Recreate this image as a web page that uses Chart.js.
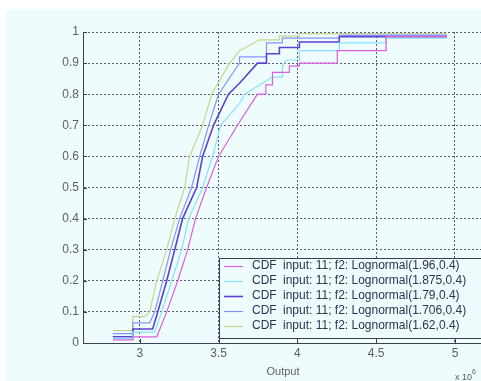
<!DOCTYPE html>
<html>
<head>
<meta charset="utf-8">
<script src="https://cdn.jsdelivr.net/npm/chart.js@4.4.1/dist/chart.umd.min.js"></script>
<style>
  html, body { margin: 0; padding: 0; background: #ffffff; }
  #wrap { width: 481px; height: 381px; }
</style>
</head>
<body>
<div id="wrap"><canvas id="cdfChart" width="481" height="381"></canvas></div>
<script>
// etiquetas y valores (x en millones)
const seriesLabels = [
  'CDF input: 11; f2: Lognormal(1.96,0.4)',
  'CDF input: 11; f2: Lognormal(1.875,0.4)',
  'CDF input: 11; f2: Lognormal(1.79,0.4)',
  'CDF input: 11; f2: Lognormal(1.706,0.4)',
  'CDF input: 11; f2: Lognormal(1.62,0.4)'
];
const seriesColors = ['#dc5ede', '#86e2fb', '#5e40d2', '#8494fb', '#c7d58e'];

const magentaX = [2.829, 2.956, 2.956, 3.108, 3.171, 3.241, 3.304, 3.354, 3.424, 3.500, 3.620, 3.747, 3.800, 3.800, 3.842, 3.842, 3.949, 3.949, 4.013, 4.013, 4.253, 4.253, 4.563, 4.563, 4.949];
const magentaY = [0.01, 0.01, 0.02, 0.02, 0.10, 0.20, 0.30, 0.40, 0.50, 0.60, 0.70, 0.80, 0.80, 0.83, 0.83, 0.87, 0.87, 0.89, 0.89, 0.90, 0.90, 0.94, 0.94, 0.985, 0.985];

const cyanX = [2.829, 2.956, 2.956, 3.095, 3.139, 3.203, 3.266, 3.310, 3.399, 3.462, 3.513, 3.633, 3.665, 3.842, 3.905, 3.905, 3.930, 4.013, 4.013, 4.266, 4.266, 4.563, 4.563, 4.949];
const cyanY = [0.015, 0.015, 0.035, 0.035, 0.10, 0.20, 0.30, 0.40, 0.50, 0.60, 0.70, 0.77, 0.80, 0.855, 0.855, 0.89, 0.91, 0.91, 0.94, 0.94, 0.965, 0.965, 0.98, 0.98];

const purpleX = [2.829, 2.956, 2.956, 3.082, 3.114, 3.171, 3.222, 3.272, 3.361, 3.399, 3.468, 3.563, 3.633, 3.747, 3.804, 3.804, 3.886, 3.886, 4.013, 4.013, 4.266, 4.266, 4.949];
const purpleY = [0.02, 0.02, 0.045, 0.045, 0.10, 0.20, 0.30, 0.40, 0.50, 0.60, 0.70, 0.80, 0.835, 0.90, 0.90, 0.93, 0.93, 0.95, 0.95, 0.968, 0.968, 0.985, 0.985];

const blueX = [2.829, 2.956, 2.956, 3.063, 3.095, 3.146, 3.196, 3.253, 3.329, 3.380, 3.437, 3.500, 3.633, 3.633, 3.804, 3.804, 3.905, 3.905, 4.266, 4.266, 4.949];
const blueY = [0.03, 0.03, 0.065, 0.065, 0.10, 0.20, 0.30, 0.40, 0.50, 0.60, 0.70, 0.80, 0.90, 0.92, 0.92, 0.965, 0.965, 0.98, 0.98, 0.99, 0.99];

const yellowX = [2.829, 2.956, 2.956, 3.032, 3.063, 3.108, 3.171, 3.222, 3.285, 3.316, 3.399, 3.456, 3.570, 3.633, 3.759, 3.886, 3.886, 4.013, 4.013, 4.949];
const yellowY = [0.04, 0.04, 0.085, 0.085, 0.10, 0.20, 0.30, 0.40, 0.50, 0.60, 0.70, 0.80, 0.90, 0.94, 0.975, 0.975, 0.987, 0.987, 0.995, 0.995];

const xTicks = [3, 3.5, 4, 4.5, 5];
const yTicks = [0, 0.1, 0.2, 0.3, 0.4, 0.5, 0.6, 0.7, 0.8, 0.9, 1];

const seriesX = [magentaX, cyanX, purpleX, blueX, yellowX];
const seriesY = [magentaY, cyanY, purpleY, blueY, yellowY];

const datasets = seriesLabels.map((label, i) => ({
  label: label,
  data: seriesX[i].map((x, k) => ({ x: x, y: seriesY[i][k] })),
  borderColor: seriesColors[i],
  borderWidth: i === 2 ? 1.6 : 1.2,
  pointRadius: 0,
  fill: false,
  tension: 0
}));

const BG = '#eefcfd';
const TXT = '#5a5f6b';
const FONT = '"Liberation Sans", Arial, sans-serif';

// fondo, marcas internas, leyenda y textos extra
const extras = {
  id: 'extras',
  beforeDraw(chart) {
    const ctx = chart.ctx;
    ctx.save();
    ctx.fillStyle = '#ffffff';
    ctx.fillRect(0, 0, chart.width, chart.height);
    ctx.fillStyle = BG;
    ctx.fillRect(6, 9, chart.width - 6, chart.height - 9);
    ctx.restore();
  },
  afterDraw(chart) {
    const ctx = chart.ctx;
    const xs = chart.scales.x, ys = chart.scales.y;
    const a = chart.chartArea;
    ctx.save();
    // marcas hacia dentro
    ctx.strokeStyle = '#3c4050';
    ctx.lineWidth = 1;
    ctx.beginPath();
    xTicks.forEach(v => {
      const px = Math.round(xs.getPixelForValue(v)) + 0.5;
      ctx.moveTo(px, a.bottom); ctx.lineTo(px, a.bottom - 4);
    });
    yTicks.forEach(v => {
      const py = Math.round(ys.getPixelForValue(v)) + 0.5;
      ctx.moveTo(a.left, py); ctx.lineTo(a.left + 4, py);
    });
    ctx.stroke();

    // leyenda
    ctx.fillStyle = BG;
    ctx.fillRect(219.5, 258.5, 270, 80);
    ctx.strokeStyle = '#3a3f4c';
    ctx.strokeRect(219.5, 258.5, 270, 80);
    ctx.font = '12px ' + FONT;
    ctx.textBaseline = 'middle';
    chart.data.datasets.forEach((ds, i) => {
      const y = 265.5 + i * 15.1;
      ctx.strokeStyle = ds.borderColor;
      ctx.lineWidth = ds.borderWidth;
      ctx.beginPath();
      ctx.moveTo(224, Math.round(y) + 0.5); ctx.lineTo(243, Math.round(y) + 0.5);
      ctx.stroke();
      const first = ds.label.indexOf(' ');
      ctx.fillStyle = '#2c3450';
      ctx.fillText(ds.label.slice(0, first), 252, y);
      ctx.fillText(ds.label.slice(first + 1), 283, y);
    });

    // título del eje y factor de escala
    ctx.fillStyle = TXT;
    ctx.textAlign = 'center';
    ctx.font = '11px ' + FONT;
    ctx.fillText('Output', 283, 372);
    ctx.textAlign = 'left';
    ctx.font = '9px ' + FONT;
    ctx.fillText('x 10', 455, 378);
    ctx.font = '7px ' + FONT;
    ctx.fillText('6', 472, 372);
    ctx.restore();
  }
};

new Chart(document.getElementById('cdfChart').getContext('2d'), {
  type: 'line',
  data: { datasets: datasets },
  options: {
    responsive: false,
    animation: false,
    layout: { padding: { top: 32, right: 0, left: 0, bottom: 0 } },
    plugins: {
      legend: { display: false },
      tooltip: { enabled: false }
    },
    scales: {
      x: {
        type: 'linear',
        min: 2.64,
        max: 5.165,
        afterBuildTicks: s => { s.ticks = xTicks.map(v => ({ value: v })); },
        afterFit: s => { s.height = 38; },
        ticks: {
          color: TXT,
          font: { family: FONT, size: 12 },
          padding: 3,
          maxRotation: 0,
          callback: v => String(v)
        },
        grid: { color: '#565a78', lineWidth: 1, drawTicks: false },
        border: { display: true, color: '#3c4050', width: 1, dash: [2, 2] }
      },
      y: {
        type: 'linear',
        min: 0,
        max: 1,
        afterBuildTicks: s => { s.ticks = yTicks.map(v => ({ value: v })); },
        afterFit: s => { s.width = 83; },
        ticks: {
          color: TXT,
          font: { family: FONT, size: 12 },
          padding: 4,
          callback: v => String(+v.toFixed(1))
        },
        grid: { color: '#565a78', lineWidth: 1, drawTicks: false },
        border: { display: true, color: '#3c4050', width: 1, dash: [2, 2] }
      }
    }
  },
  plugins: [extras]
});
</script>
</body>
</html>
